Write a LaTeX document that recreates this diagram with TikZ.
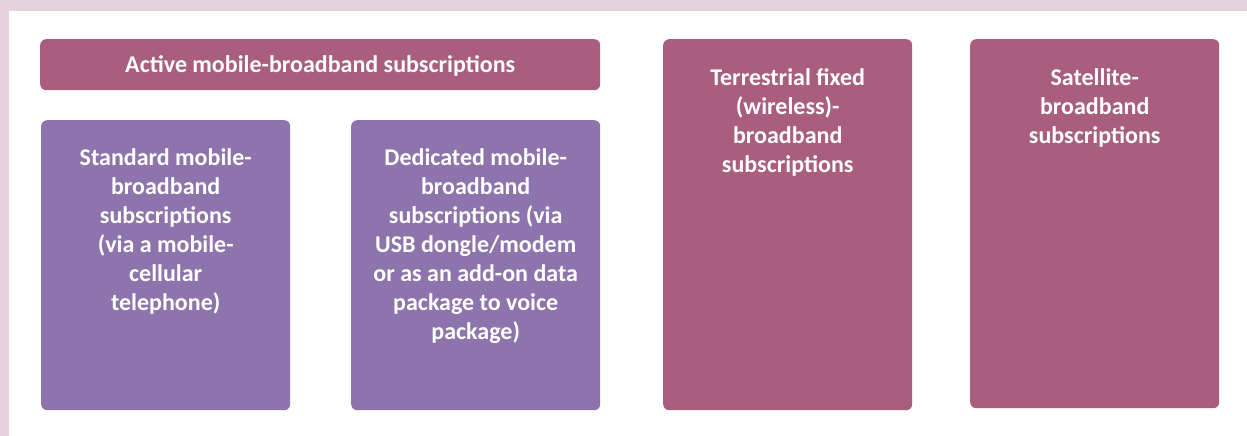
\documentclass[tikz,border=0pt]{standalone}
\usepackage{fontspec}
\setmainfont{Carlito}
\definecolor{magentabox}{HTML}{AA5E7E}
\definecolor{purplebox}{HTML}{8E74AC}
\definecolor{framepink}{HTML}{E6D2DC}
\begin{document}
\begin{tikzpicture}[x=1pt,y=-1pt,
  boxbase/.style={rectangle, rounded corners=6pt, inner sep=0pt, anchor=north west},
  mbox/.style={boxbase, fill=magentabox},
  pbox/.style={boxbase, fill=purplebox},
  btext/.style={text=white, font=\fontsize{24}{29}\selectfont\bfseries, align=center, inner sep=0pt, anchor=north}]
\useasboundingbox (0,0) rectangle (1247,436);
\fill[framepink] (0,0) rectangle (1247,436);
\fill[white] (9,11) rectangle (1247,436);
% boxes
\node[mbox, minimum width=560pt, minimum height=51pt] (active) at (40,39) {};
\node[text=white, font=\fontsize{24}{29}\selectfont\bfseries, inner sep=0pt] (activet) at ([yshift=-1.5pt]active.center) {Active mobile-broadband subscriptions};
\node[pbox, minimum width=249pt, minimum height=290pt] (std) at (41,120) {};
\node[pbox, minimum width=249pt, minimum height=290pt] (ded) at (351,120) {};
\node[mbox, minimum width=249pt, minimum height=371pt] (ter) at (663,39) {};
\node[mbox, minimum width=249pt, minimum height=369pt] (sat) at (970,39) {};
% texts
\node[btext] (stdt) at ([yshift=-28.5pt]std.north) {Standard mobile-\\broadband\\subscriptions\\(via a mobile-\\cellular\\telephone)};
\node[btext] (dedt) at ([yshift=-28.5pt]ded.north) {Dedicated mobile-\\broadband\\subscriptions (via\\USB dongle/modem\\or as an add-on data\\package to voice\\package)};
\node[btext] (tert) at ([yshift=-29.5pt]ter.north) {Terrestrial fixed\\(wireless)-\\broadband\\subscriptions};
\node[btext] (satt) at ([yshift=-29.5pt]sat.north) {Satellite-\\broadband\\subscriptions};
\end{tikzpicture}
\end{document}
